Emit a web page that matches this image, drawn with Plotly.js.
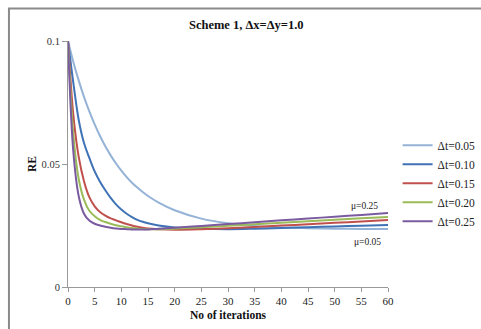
<!DOCTYPE html>
<html>
<head>
<meta charset="utf-8">
<script src="https://cdn.plot.ly/plotly-3.0.1.min.js"></script>
<style>
html,body{margin:0;padding:0;background:#fff;}
#chart{width:481px;height:329px;}
</style>
</head>
<body>
<div id="chart"></div>
<script>
var iters = [0, 1, 2, 3, 4, 5, 6, 7, 8, 9, 10, 11, 12, 13, 14, 15, 17, 20, 25, 30, 35, 40, 45, 50, 55, 60];

var re_dt005 = [0.100, 0.0915, 0.0840, 0.0773, 0.0714, 0.0661, 0.0614, 0.0572, 0.0535, 0.0502, 0.0473, 0.0447, 0.0424, 0.0404, 0.0386, 0.0370, 0.0343, 0.0312, 0.0278, 0.0259, 0.0248, 0.0242, 0.0239, 0.0237, 0.0236, 0.0236];
var re_dt010 = [0.100, 0.083, 0.068, 0.0585, 0.0525, 0.0470, 0.0428, 0.0393, 0.0362, 0.0336, 0.0315, 0.0298, 0.0284, 0.0273, 0.0265, 0.0259, 0.0250, 0.0242, 0.0237, 0.0235, 0.0237, 0.0240, 0.0243, 0.0246, 0.0249, 0.0252];
var re_dt015 = [0.100, 0.070, 0.053, 0.043, 0.0365, 0.0328, 0.0305, 0.0290, 0.0279, 0.0271, 0.0263, 0.0256, 0.0250, 0.0245, 0.0241, 0.0238, 0.0235, 0.0233, 0.0235, 0.0239, 0.0244, 0.0250, 0.0255, 0.0261, 0.0266, 0.0272];
var re_dt020 = [0.100, 0.062, 0.044, 0.0355, 0.0310, 0.0288, 0.0273, 0.0264, 0.0257, 0.0251, 0.0247, 0.0243, 0.0240, 0.0238, 0.0236, 0.0235, 0.0235, 0.0237, 0.0243, 0.0249, 0.0255, 0.0261, 0.0267, 0.0273, 0.0279, 0.0285];
var re_dt025 = [0.100, 0.055, 0.037, 0.0298, 0.0270, 0.0257, 0.0250, 0.0245, 0.0241, 0.0238, 0.0236, 0.0235, 0.0234, 0.0234, 0.0234, 0.0234, 0.0237, 0.0241, 0.0248, 0.0256, 0.0263, 0.0271, 0.0278, 0.0286, 0.0293, 0.0301];

var seriesNames = ['\u0394t=0.05', '\u0394t=0.10', '\u0394t=0.15', '\u0394t=0.20', '\u0394t=0.25'];
var seriesData = [re_dt005, re_dt010, re_dt015, re_dt020, re_dt025];
var seriesColors = ['#95b3d7', '#3f73b5', '#c0504d', '#9bbb59', '#7a5ba0'];

var xTickVals = [0, 5, 10, 15, 20, 25, 30, 35, 40, 45, 50, 55, 60];
var yTickVals = [0, 0.05, 0.1];
var yTickText = ['0', '0.05', '0.1'];

var serif = 'Liberation Serif, Times New Roman, serif';

var traces = seriesData.map(function (vals, i) {
  return {
    type: 'scatter',
    mode: 'lines',
    x: iters,
    y: vals,
    name: seriesNames[i],
    line: {color: seriesColors[i], width: 2, shape: 'spline', smoothing: 1},
    hoverinfo: 'x+y+name'
  };
});

var layout = {
  width: 481,
  height: 329,
  margin: {l: 68, r: 93, t: 41, b: 42, autoexpand: false},
  paper_bgcolor: '#ffffff',
  plot_bgcolor: '#ffffff',
  font: {family: serif, size: 11, color: '#222'},
  title: {
    text: '<b>Scheme 1, \u0394x=\u0394y=1.0</b>',
    font: {family: serif, size: 12.5, color: '#111'},
    x: 0.512, xanchor: 'center',
    y: 0.925, yanchor: 'middle'
  },
  showlegend: true,
  legend: {
    x: 1.03, xanchor: 'left',
    y: 0.635, yanchor: 'top',
    font: {family: serif, size: 11.5, color: '#222'},
    bgcolor: 'rgba(0,0,0,0)',
    tracegroupgap: 0,
    itemwidth: 30
  },
  xaxis: {
    range: [0, 60],
    tickvals: xTickVals,
    ticks: 'outside', ticklen: 4, tickcolor: '#999',
    showline: true, linecolor: '#999', linewidth: 1,
    showgrid: false, zeroline: false,
    tickfont: {family: serif, size: 11, color: '#222'},
    title: {text: '<b>No of iterations</b>', font: {family: serif, size: 11.5, color: '#111'}, standoff: 4}
  },
  yaxis: {
    range: [0, 0.1],
    tickvals: yTickVals,
    ticktext: yTickText,
    ticks: 'outside', ticklen: 5, tickcolor: '#999',
    showline: true, linecolor: '#999', linewidth: 1,
    showgrid: false, zeroline: false,
    tickfont: {family: serif, size: 10.5, color: '#333'},
    title: {text: '<b>RE</b>', font: {family: serif, size: 11.5, color: '#111'}, standoff: 2}
  },
  annotations: [
    {xref: 'x', yref: 'y', x: 55.5, y: 0.0328, text: '\u03bc=0.25', showarrow: false,
     font: {family: serif, size: 9.5, color: '#222'}},
    {xref: 'x', yref: 'y', x: 56.2, y: 0.0183, text: '\u03bc=0.05', showarrow: false,
     font: {family: serif, size: 9.5, color: '#222'}}
  ],
  shapes: [
    {type: 'rect', xref: 'paper', yref: 'paper',
     x0: -0.1845, x1: 1.6, y0: -0.6, y1: 1.132,
     line: {color: '#8a8a8a', width: 2}, fillcolor: 'rgba(0,0,0,0)', layer: 'below'}
  ]
};

Plotly.newPlot('chart', traces, layout, {displayModeBar: false, staticPlot: true});
</script>
</body>
</html>
